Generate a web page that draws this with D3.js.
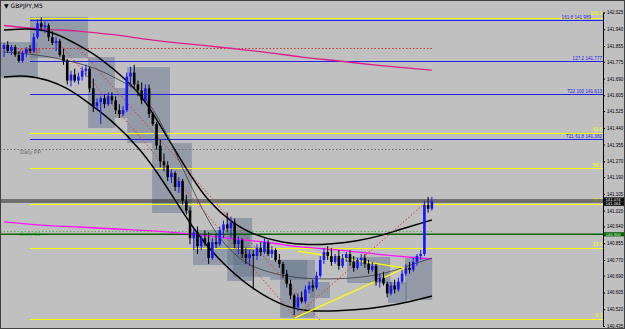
<!DOCTYPE html>
<html>
<head>
<meta charset="utf-8">
<script src="https://cdn.jsdelivr.net/npm/d3@7"></script>
<style>
  body { margin: 0; background: #c0c0c0; }
  svg { display: block; font-family: "Liberation Sans", sans-serif; }
</style>
</head>
<body>
<div id="chart"></div>
<script>
// GBPJPY M5 chart
const WIDTH = 625, HEIGHT = 329;
const AXIS_X = 603;

// candles: [open, high, low, close]
const ohlc = [
  [141.84,141.87,141.80,141.86],[141.86,141.88,141.82,141.83],[141.83,141.86,141.81,141.85],[141.85,141.86,141.80,141.81],
  [141.81,141.83,141.77,141.78],[141.78,141.83,141.77,141.82],[141.82,141.85,141.80,141.84],[141.84,141.86,141.82,141.83],
  [141.83,141.92,141.82,141.90],[141.90,141.99,141.89,141.97],[141.97,142.00,141.93,141.95],[141.95,141.98,141.92,141.96],
  [141.96,141.97,141.88,141.90],[141.90,141.93,141.86,141.87],[141.87,141.90,141.83,141.88],[141.88,141.89,141.80,141.81],
  [141.81,141.84,141.76,141.78],[141.78,141.79,141.66,141.68],[141.68,141.73,141.65,141.71],[141.71,141.74,141.67,141.68],
  [141.68,141.72,141.66,141.70],[141.70,141.75,141.68,141.73],[141.73,141.76,141.70,141.74],[141.74,141.75,141.62,141.64],
  [141.64,141.69,141.52,141.55],[141.55,141.59,141.53,141.57],[141.57,141.60,141.46,141.59],[141.59,141.61,141.54,141.56],
  [141.56,141.62,141.55,141.60],[141.60,141.62,141.56,141.58],[141.58,141.60,141.51,141.53],[141.53,141.56,141.49,141.51],
  [141.51,141.55,141.50,141.53],[141.53,141.72,141.52,141.70],[141.70,141.75,141.66,141.72],[141.72,141.76,141.64,141.66],
  [141.66,141.68,141.60,141.63],[141.63,141.67,141.56,141.58],[141.58,141.66,141.57,141.64],[141.64,141.66,141.49,141.51],
  [141.51,141.52,141.45,141.46],[141.46,141.47,141.33,141.35],[141.35,141.38,141.24,141.27],[141.27,141.31,141.22,141.25],
  [141.25,141.27,141.17,141.19],[141.19,141.23,141.16,141.21],[141.21,141.22,141.12,141.14],[141.14,141.19,141.11,141.17],
  [141.17,141.18,141.05,141.07],[141.07,141.10,141.00,141.02],[141.02,141.04,140.85,140.88],[140.88,140.93,140.82,140.91],
  [140.91,140.94,140.80,140.84],[140.84,140.90,140.82,140.88],[140.88,140.92,140.84,140.86],[140.86,140.91,140.75,140.78],
  [140.78,140.88,140.77,140.86],[140.86,140.90,140.83,140.85],[140.85,140.94,140.84,140.92],[140.92,140.97,140.88,140.95],
  [140.95,141.01,140.91,140.93],[140.93,140.99,140.88,140.96],[140.96,140.98,140.83,140.85],[140.85,140.89,140.80,140.87],
  [140.87,140.88,140.78,140.80],[140.80,140.83,140.75,140.78],[140.78,140.82,140.74,140.80],[140.80,140.82,140.62,140.79],
  [140.79,140.85,140.77,140.83],[140.83,140.86,140.79,140.81],[140.81,140.88,140.80,140.86],[140.86,140.87,140.79,140.80],
  [140.80,140.84,140.78,140.82],[140.82,140.83,140.76,140.77],[140.77,140.80,140.73,140.75],[140.75,140.76,140.68,140.70],
  [140.70,140.72,140.63,140.65],[140.65,140.67,140.57,140.59],[140.59,140.60,140.49,140.53],[140.53,140.60,140.51,140.58],
  [140.58,140.61,140.55,140.56],[140.56,140.64,140.55,140.62],[140.62,140.66,140.60,140.64],[140.64,140.67,140.61,140.63],
  [140.63,140.71,140.62,140.69],[140.69,140.79,140.68,140.77],[140.77,140.83,140.75,140.81],[140.81,140.84,140.77,140.79],
  [140.79,140.83,140.74,140.76],[140.76,140.80,140.75,140.79],[140.79,140.82,140.72,140.74],[140.74,140.80,140.73,140.78],
  [140.78,140.81,140.76,140.80],[140.80,140.82,140.74,140.76],[140.76,140.79,140.71,140.73],[140.73,140.78,140.72,140.77],
  [140.77,140.80,140.74,140.78],[140.78,140.80,140.73,140.75],[140.75,140.77,140.70,140.72],[140.72,140.76,140.71,140.74],
  [140.74,140.75,140.64,140.66],[140.66,140.70,140.63,140.68],[140.68,140.71,140.64,140.65],[140.65,140.66,140.58,140.60],
  [140.60,140.66,140.59,140.64],[140.64,140.67,140.60,140.62],[140.62,140.68,140.61,140.66],[140.66,140.72,140.65,140.70],
  [140.70,140.75,140.69,140.73],[140.73,140.76,140.70,140.72],[140.72,140.78,140.71,140.76],[140.76,140.80,140.74,140.79],
  [140.79,140.82,140.77,140.80],[140.80,141.07,140.79,141.05],[141.05,141.09,141.01,141.03],[141.03,141.09,141.02,141.07]
];

// price axis ticks
const tickValues = [142.025,141.940,141.855,141.775,141.690,141.605,141.525,141.440,141.355,141.270,
  141.190,141.105,141.020,140.940,140.855,140.770,140.690,140.605,140.520,140.435];

// fibo levels (yellow)
const fibPrices = [141.997,141.414,141.234,141.054,140.831,140.471];
const fibLabels = ["100.0","61.8","50.0","38.2","23.6","0.0"];
// target levels (blue)
const targetPrices = [141.989,141.777,141.613,141.382];
const targetLabels = ["161.8  141.989","127.2  141.777","T22 100  141.613","T21 61.8  141.382"];
// daily pivots
const pivotNames = ["Daily R1","Daily PP","Daily S1"];
const pivotPrices = [141.847,141.331,140.917];
// current bid/ask and alert line
const askPrice = 141.074, bidPrice = 141.064;
const alertPrice = 140.900;

// moving averages (sampled at bar index)
const maBars = [0,10,20,30,40,50,60,70,80,90,100,115];
const maSlow = [141.959,141.941,141.931,141.911,141.885,141.865,141.845,141.824,141.799,141.779,141.758,141.733];
const maFast = [140.963,140.947,140.937,140.927,140.917,140.902,140.881,140.861,140.836,140.820,140.800,140.775];

// regression channel
const upperBars = [0,8,14,20,26,33,38,44,50,55,61,67,75,82,88,95,101,106,115];
const upperVals = [141.936,141.946,141.921,141.860,141.794,141.682,141.581,141.388,141.201,141.064,140.962,140.897,140.856,140.846,140.851,140.866,140.891,140.922,140.973];
const midBars = [0,5,13,20,26,31,37,42,47,52,57,62,67,75,82,92,101,107,115];
const midVals = [141.824,141.819,141.799,141.769,141.733,141.682,141.622,141.480,141.277,141.074,140.897,140.795,140.729,140.689,140.673,140.673,140.694,140.729,140.780];
const lowerBars = [0,6,12,17,21,29,37,43,51,57,66,76,83,95,102,109,115];
const lowerVals = [141.698,141.708,141.682,141.642,141.591,141.480,141.327,141.165,140.922,140.785,140.628,140.526,140.506,140.516,140.532,140.557,140.587];

// trend lines: [bar1, price1, bar2, price2]
const redDotted = [[15.0,141.865,78.5,140.476],[19.1,141.865,84.9,140.466],[78.2,140.481,113.2,141.059]];
const triangle = [[79.0,140.815,107.8,140.729],[78.2,140.476,107.8,140.729]];

// boxes: [bar1, bar2, top, bottom]
const boxes = [
  [-1.1,9.1,141.875,141.693],[7.0,22.6,142.002,141.794],[22.6,29.8,141.799,141.439],[29.8,33.1,141.642,141.490],
  [33.1,44.6,141.748,141.363],[39.8,50.5,141.363,141.008],[50.8,66.1,140.922,140.744],[60.0,66.7,140.983,140.663],
  [61.6,71.5,140.836,140.684],[71.5,81.5,140.770,140.669],[74.2,83.6,140.770,140.476],[82.3,87.6,140.658,140.577],
  [92.2,103.8,140.785,140.653],[103.2,108.3,140.658,140.552],[107.8,115.1,140.780,140.567]
];

const x = d3.scaleLinear().domain([0, 161]).range([4, AXIS_X]);
const y = d3.scaleLinear().domain([140.435, 142.025]).range([326, 12.5]);

const svg = d3.select("#chart").append("svg")
  .attr("width", WIDTH).attr("height", HEIGHT);

svg.append("rect").attr("width", WIDTH).attr("height", HEIGHT).attr("fill", "#c0c0c0");

svg.append("clipPath").attr("id", "plot")
  .append("rect").attr("x", 0).attr("y", 0).attr("width", AXIS_X).attr("height", HEIGHT);

let plot = svg.append("g").attr("clip-path", "url(#plot)");

// boxes
plot.append("g").selectAll("rect").data(boxes).enter().append("rect")
  .attr("x", d => x(d[0])).attr("width", d => x(d[1]) - x(d[0]))
  .attr("y", d => y(d[2])).attr("height", d => y(d[3]) - y(d[2]))
  .attr("fill", "#5c6f8a").attr("fill-opacity", 0.45);

let lineEnd = x(115.5);

// pivot lines
const pivotColors = ["#c83232", "#6e6e6e", "#5ab45a"];
plot.append("g").selectAll("line").data(pivotPrices).enter().append("line")
  .attr("x1", 0).attr("x2", lineEnd)
  .attr("y1", d => Math.round(y(d)) + 0.5).attr("y2", d => Math.round(y(d)) + 0.5)
  .attr("stroke", (d, i) => pivotColors[i]).attr("stroke-dasharray", "1.5,2");
plot.append("g").selectAll("text").data(pivotPrices).enter().append("text")
  .attr("x", x(4.3)).attr("y", d => y(d) + 5)
  .attr("font-size", 5.5).attr("fill", (d, i) => pivotColors[i])
  .text((d, i) => pivotNames[i]);

// yellow fibo lines
plot.append("g").selectAll("line").data(fibPrices).enter().append("line")
  .attr("x1", x(7)).attr("x2", AXIS_X)
  .attr("y1", d => Math.round(y(d)) + 0.5).attr("y2", d => Math.round(y(d)) + 0.5)
  .attr("stroke", "#ffff00").attr("stroke-width", 1);
plot.append("g").selectAll("text").data(fibPrices).enter().append("text")
  .attr("x", AXIS_X - 1).attr("y", (d, i) => y(d) - (i == 0 ? 3.5 : 1.5))
  .attr("text-anchor", "end").attr("font-size", 4.6).attr("fill", "#ffff00")
  .text((d, i) => fibLabels[i]);

// blue target lines
plot.append("g").selectAll("line").data(targetPrices).enter().append("line")
  .attr("x1", x(7)).attr("x2", AXIS_X)
  .attr("y1", d => Math.round(y(d)) + 0.5).attr("y2", d => Math.round(y(d)) + 0.5)
  .attr("stroke", "#2323e6").attr("stroke-width", 1.2);
plot.append("g").selectAll("text").data(targetPrices).enter().append("text")
  .attr("x", (d, i) => AXIS_X - (i == 0 ? 12 : 1)).attr("y", d => y(d) - 1)
  .attr("text-anchor", "end").attr("font-size", 4.6).attr("fill", "#2323e6")
  .text((d, i) => targetLabels[i]);

// bid / ask and alert lines
[askPrice, bidPrice].forEach(function(p) {
  plot.append("line").attr("x1", 0).attr("x2", AXIS_X)
    .attr("y1", y(p)).attr("y2", y(p))
    .attr("stroke", "#202020").attr("stroke-width", 1);
});
plot.append("line").attr("x1", 0).attr("x2", AXIS_X)
  .attr("y1", y(alertPrice)).attr("y2", y(alertPrice))
  .attr("stroke", "#006400").attr("stroke-width", 1.4);

// moving averages
let maLine = d3.line().x((d, i) => x(maBars[i])).y(d => y(d)).curve(d3.curveMonotoneX);
plot.append("path").datum(maSlow).attr("d", maLine)
  .attr("fill", "none").attr("stroke", "#dc1e8c").attr("stroke-width", 1.3);
plot.append("path").datum(maFast).attr("d", maLine)
  .attr("fill", "none").attr("stroke", "#ff14ff").attr("stroke-width", 1.3);

// regression channel
function channel(bars, vals, color, w) {
  plot.append("path").datum(vals)
    .attr("d", d3.line().x((d, i) => x(bars[i])).y(d => y(d)).curve(d3.curveBasis))
    .attr("fill", "none").attr("stroke", color).attr("stroke-width", w);
}
channel(upperBars, upperVals, "#000", 1.5);
channel(midBars, midVals, "#3a3a3a", 0.8);
channel(lowerBars, lowerVals, "#000", 1.5);

// trend lines
plot.append("g").selectAll("line").data(redDotted).enter().append("line")
  .attr("x1", d => x(d[0])).attr("y1", d => y(d[1]))
  .attr("x2", d => x(d[2])).attr("y2", d => y(d[3]))
  .attr("stroke", "#e03232").attr("stroke-dasharray", "1.5,2");
plot.append("g").selectAll("line").data(triangle).enter().append("line")
  .attr("x1", d => x(d[0])).attr("y1", d => y(d[1]))
  .attr("x2", d => x(d[2])).attr("y2", d => y(d[3]))
  .attr("stroke", "#ffff00").attr("stroke-width", 1.3);

// candles
let candles = plot.append("g").selectAll("g").data(ohlc).enter().append("g");
let candleColor = d => d[3] >= d[0] ? "#1414ff" : "#000";
candles.append("line")
  .attr("x1", (d, i) => x(i)).attr("x2", (d, i) => x(i))
  .attr("y1", d => y(d[1])).attr("y2", d => y(d[2]))
  .attr("stroke", candleColor).attr("stroke-width", 1);
candles.append("rect")
  .attr("x", (d, i) => x(i) - 1.3).attr("width", 2.6)
  .attr("y", d => y(Math.max(d[0], d[3])))
  .attr("height", d => Math.max(1, Math.abs(y(d[0]) - y(d[3]))))
  .attr("fill", candleColor);

// price axis
let axis = svg.append("g").attr("transform", `translate(${AXIS_X}, 0)`)
  .call(d3.axisRight(y).tickValues(tickValues).tickFormat(d3.format(".3f")).tickSize(2).tickPadding(2));
axis.select(".domain").attr("stroke", "#000");
axis.selectAll("text").attr("font-size", 4.5).attr("fill", "#000").attr("font-family", "Liberation Sans");

// axis price tags, stacked
function tag(p, top, bg, fg) {
  let g = svg.append("g").attr("transform", `translate(${AXIS_X + 1}, ${top})`);
  g.append("rect").attr("x", 0).attr("y", 0).attr("width", 20).attr("height", 4.2).attr("fill", bg);
  g.append("text").attr("x", 1.5).attr("y", 3.6).attr("font-size", 4.2).attr("fill", fg).text(p.toFixed(3));
}
tag(askPrice, y(askPrice) - 2.6, "#000", "#fff");
tag(bidPrice, y(askPrice) + 1.6, "#000", "#fff");
tag(alertPrice, y(alertPrice) - 2.1, "#006400", "#e8e8e8");

// title and frame
svg.append("text").attr("x", 4).attr("y", 8).attr("font-size", 6).attr("fill", "#000")
  .attr("font-family", "DejaVu Sans").text("\u25BC GBPJPY,M5");
svg.append("rect").attr("x", 0.5).attr("y", 0.5).attr("width", WIDTH - 1).attr("height", HEIGHT - 1)
  .attr("fill", "none").attr("stroke", "#404040");
</script>
</body>
</html>
